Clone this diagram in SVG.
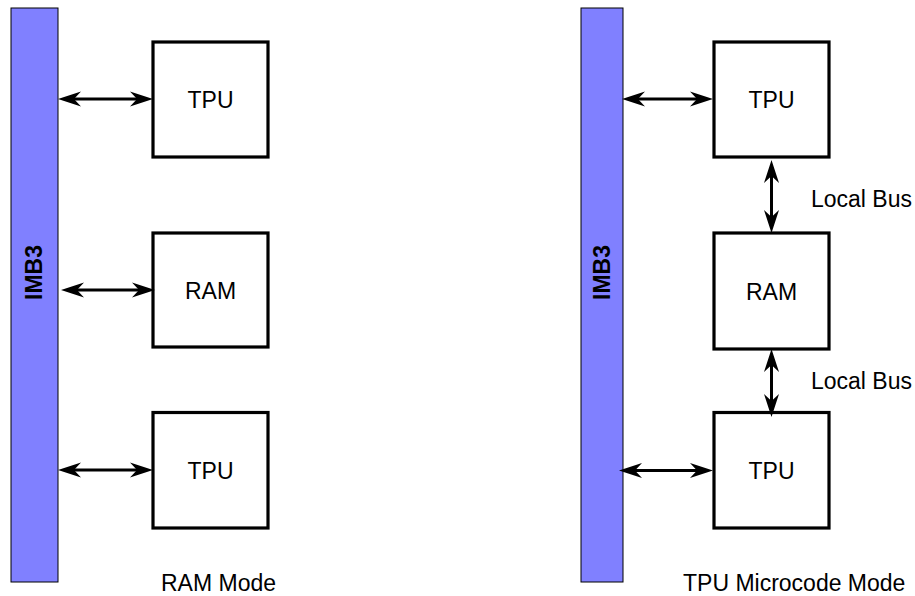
<svg xmlns="http://www.w3.org/2000/svg" width="915" height="596" viewBox="0 0 915 596">
<style>
  .bar { fill: #8080ff; stroke: #000; stroke-width: 1; }
  .box { fill: #fff; stroke: #000; stroke-width: 3.2; }
  .lbl { font-family: "Liberation Sans", Arial, sans-serif; font-size: 23px; fill: #000; }
  .bus { font-family: "Liberation Sans", Arial, sans-serif; font-size: 23px; font-weight: bold; fill: #000; }
  .conn { stroke: #000; stroke-width: 3; fill: none; marker-start: url(#ah); marker-end: url(#ah); }
</style>
<defs>
  <marker id="ah" markerUnits="userSpaceOnUse" viewBox="0 -9 25 18" markerWidth="25" markerHeight="18" refX="13" refY="0" orient="auto-start-reverse">
    <path d="M0,-7.5 L23,0 L0,7.5 L7,0 Z" fill="#000"/>
  </marker>
</defs>

<g id="imb3-left">
  <rect class="bar" x="11" y="8" width="47" height="574"/>
  <text class="bus" text-anchor="middle" transform="translate(42,272.5) rotate(-90)">IMB3</text>
</g>
<g id="tpu-left-top">
  <rect class="box" x="153" y="42" width="115" height="115"/>
  <text class="lbl" x="210.5" y="108" text-anchor="middle">TPU</text>
</g>
<g id="ram-left">
  <rect class="box" x="153" y="233" width="115" height="114"/>
  <text class="lbl" x="210.5" y="299" text-anchor="middle">RAM</text>
</g>
<g id="tpu-left-bottom">
  <rect class="box" x="153" y="412.5" width="115" height="115.5"/>
  <text class="lbl" x="210.5" y="479" text-anchor="middle">TPU</text>
</g>
<text class="lbl" x="161" y="591">RAM Mode</text>

<g id="imb3-right">
  <rect class="bar" x="581" y="8" width="42" height="574"/>
  <text class="bus" text-anchor="middle" transform="translate(609.5,272.5) rotate(-90)">IMB3</text>
</g>
<g id="tpu-right-top">
  <rect class="box" x="714" y="42" width="115" height="115"/>
  <text class="lbl" x="771.5" y="108" text-anchor="middle">TPU</text>
</g>
<g id="ram-right">
  <rect class="box" x="714" y="233" width="115" height="116"/>
  <text class="lbl" x="771.5" y="300" text-anchor="middle">RAM</text>
</g>
<g id="tpu-right-bottom">
  <rect class="box" x="714" y="412.5" width="115" height="115.5"/>
  <text class="lbl" x="771.5" y="479" text-anchor="middle">TPU</text>
</g>
<text class="lbl" x="811" y="207">Local Bus</text>
<text class="lbl" x="811" y="389">Local Bus</text>
<text class="lbl" x="683" y="591">TPU Microcode Mode</text>

<g id="connectors">
  <line class="conn" x1="68" y1="99" x2="143" y2="99"/>
  <line class="conn" x1="71" y1="290" x2="145" y2="290"/>
  <line class="conn" x1="68" y1="470" x2="143" y2="470"/>
  <line class="conn" x1="632" y1="99" x2="703" y2="99"/>
  <line class="conn" x1="629" y1="470.5" x2="703" y2="470.5"/>
  <line class="conn" x1="771.5" y1="170" x2="771.5" y2="223"/>
  <line class="conn" x1="771.5" y1="359" x2="771.5" y2="407"/>
</g>
</svg>
